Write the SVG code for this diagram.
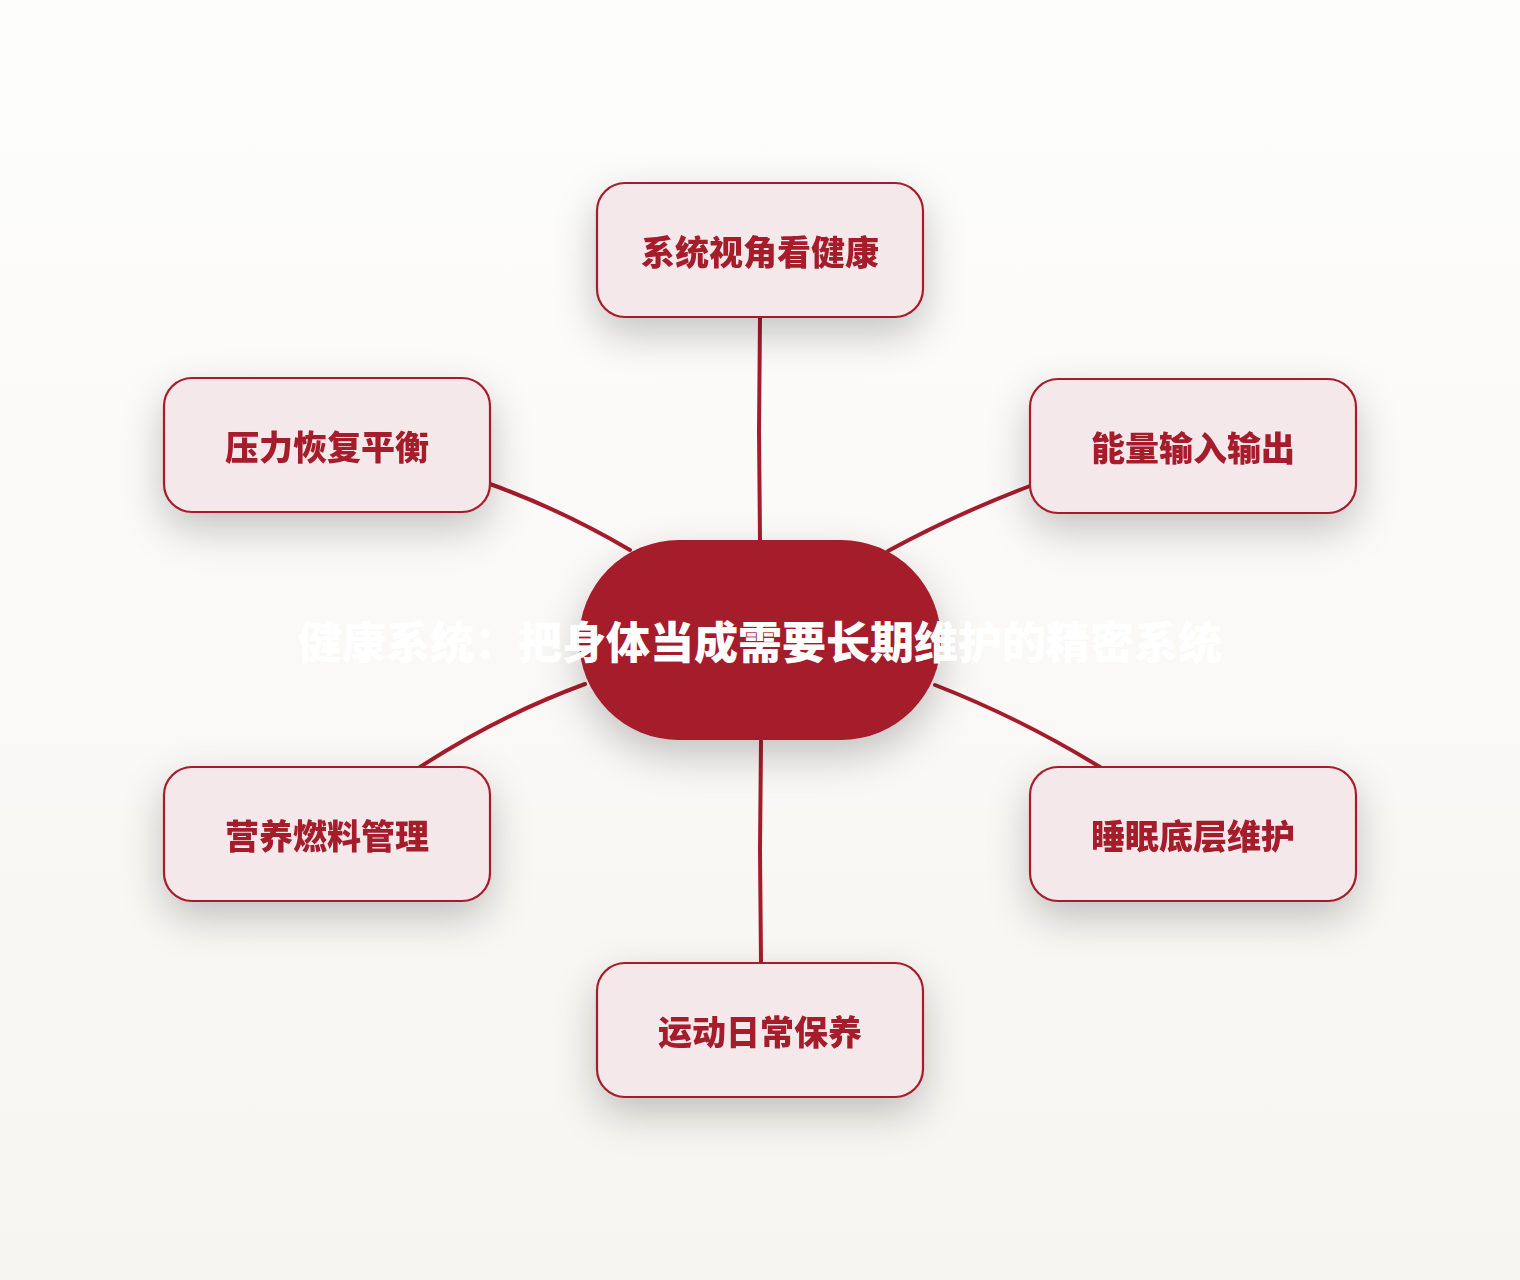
<svg xmlns="http://www.w3.org/2000/svg" width="1520" height="1280" viewBox="0 0 1520 1280">
  <defs>
    <linearGradient id="bg" x1="0" y1="0" x2="0" y2="1">
      <stop offset="0" stop-color="#fdfdfc"/>
      <stop offset="1" stop-color="#f7f5f1"/>
    </linearGradient>
    <filter id="shadow" x="-40%" y="-50%" width="180%" height="220%">
      <feDropShadow dx="0" dy="16" stdDeviation="20" flood-color="#000" flood-opacity="0.22"/>
    </filter>
    <style>
      .node rect { fill: #f5e8ea; stroke: #a51b2b; stroke-width: 2.2; }
      .node text { fill: #a51b2b; font-family: "Noto Sans CJK SC", "Noto Sans", sans-serif; font-weight: 900; font-size: 34px; text-anchor: middle; }
      .center rect { fill: #a51b2b; }
      .center text { fill: #ffffff; font-family: "Noto Sans CJK SC", "Noto Sans", sans-serif; font-weight: 900; font-size: 44px; text-anchor: middle; }
      .conn path { fill: none; stroke: #a51b2b; stroke-width: 4; stroke-linecap: round; stroke-linejoin: round; }
    </style>
  </defs>
  <rect x="0" y="0" width="1520" height="1280" fill="url(#bg)"/>

  <g id="connectors" class="conn">
    <path d="M760,318 L759,430 L760,540"/>
    <path d="M490,484 Q562,510 630,550"/>
    <path d="M1030,486 Q956,514 888,551"/>
    <path d="M420,767 Q498,716 585,684"/>
    <path d="M935,685 Q1020,718 1100,767"/>
    <path d="M761,741 L760,850 L761,963"/>
  </g>

  <g id="node-top" class="node" filter="url(#shadow)">
    <rect x="597" y="183" width="326" height="134" rx="28"/>
    <text x="760" y="265">系统视角看健康</text>
  </g>
  <g id="node-stress" class="node" filter="url(#shadow)">
    <rect x="164" y="378" width="326" height="134" rx="28"/>
    <text x="327" y="460">压力恢复平衡</text>
  </g>
  <g id="node-energy" class="node" filter="url(#shadow)">
    <rect x="1030" y="379" width="326" height="134" rx="28"/>
    <text x="1193" y="461">能量输入输出</text>
  </g>
  <g id="node-nutrition" class="node" filter="url(#shadow)">
    <rect x="164" y="767" width="326" height="134" rx="28"/>
    <text x="327" y="849">营养燃料管理</text>
  </g>
  <g id="node-sleep" class="node" filter="url(#shadow)">
    <rect x="1030" y="767" width="326" height="134" rx="28"/>
    <text x="1193" y="849">睡眠底层维护</text>
  </g>
  <g id="node-exercise" class="node" filter="url(#shadow)">
    <rect x="597" y="963" width="326" height="134" rx="28"/>
    <text x="760" y="1045">运动日常保养</text>
  </g>

  <g id="node-center" class="center">
    <rect x="579" y="540" width="362" height="200" rx="100" filter="url(#shadow)"/>
    <text x="760" y="659">健康系统：把身体当成需要长期维护的精密系统</text>
  </g>
</svg>
